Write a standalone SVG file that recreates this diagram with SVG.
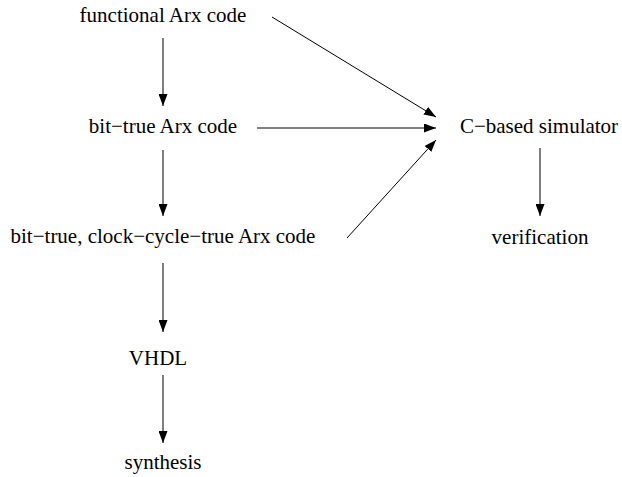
<svg xmlns="http://www.w3.org/2000/svg" width="622" height="477" viewBox="0 0 622 477">
<style>
text{font-family:"Liberation Serif","Times New Roman",serif;font-size:21px;fill:#000;text-anchor:middle}
.c line{stroke:#000;stroke-width:1;marker-end:url(#ah)}
</style>
<defs>
<marker id="ah" markerUnits="userSpaceOnUse" markerWidth="12" markerHeight="9" refX="12" refY="4.5" orient="auto" viewBox="0 0 12 9">
<path d="M0,0 L12,4.5 L0,9 z" fill="#000"/>
</marker>
</defs>
<rect width="622" height="477" fill="#fff"/>
<g id="n1"><text x="163" y="22">functional Arx code</text></g>
<g id="n2"><text x="163" y="133">bit−true Arx code</text></g>
<g id="n3"><text x="163" y="243">bit−true, clock−cycle−true Arx code</text></g>
<g id="n4"><text x="158" y="365">VHDL</text></g>
<g id="n5"><text x="163" y="469">synthesis</text></g>
<g id="n6"><text x="539" y="133">C−based simulator</text></g>
<g id="n7"><text x="540" y="244">verification</text></g>
<g class="c" id="connectors">
<line x1="163" y1="38" x2="163" y2="106"/>
<line x1="163" y1="150" x2="163" y2="216"/>
<line x1="163" y1="263" x2="163" y2="332"/>
<line x1="163" y1="375" x2="163" y2="443"/>
<line x1="272" y1="17" x2="436" y2="117"/>
<line x1="257" y1="128" x2="436" y2="128"/>
<line x1="347" y1="238" x2="436" y2="140"/>
<line x1="540" y1="148" x2="540" y2="216"/>
</g>
</svg>
